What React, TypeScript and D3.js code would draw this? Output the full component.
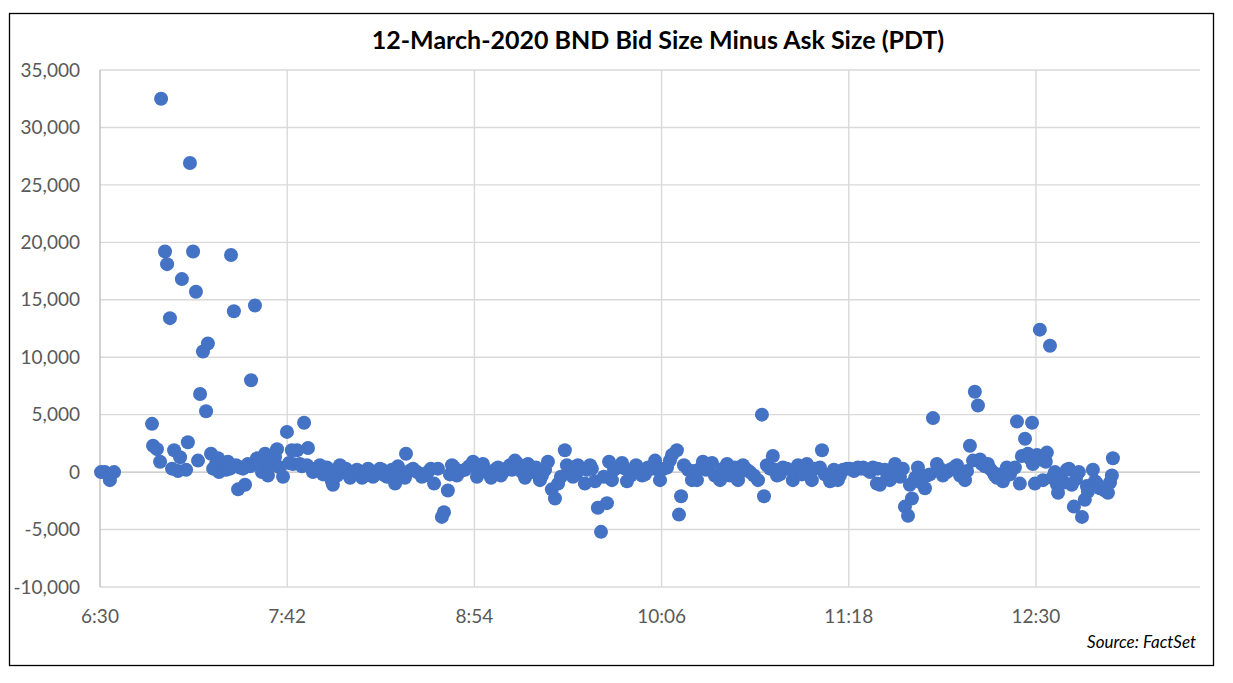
import * as d3 from "d3"

// minutes after 6:30 PDT
const minutesAfterOpen = [
  0.4, 1.9, 3.8, 5.4,
  20.0, 20.4, 21.9, 23.1, 23.5, 25.0, 25.8, 26.9, 27.7, 28.5, 30.0, 30.8, 31.5, 33.1, 33.8, 34.6,
  35.8, 36.9, 37.7, 38.5, 39.6, 40.8, 41.5, 42.7, 43.5, 45.4, 45.8, 47.7, 49.2, 50.0, 50.4, 51.5,
  53.1, 53.8, 55.8, 56.9, 58.1, 59.6, 60.4, 62.3, 63.5, 64.6, 66.2, 68.1, 70.4, 71.9, 73.8, 74.2,
  75.8, 76.9, 78.5, 79.6, 80.0, 81.9, 84.6, 87.3, 89.2, 89.6, 92.3, 93.5, 96.2, 98.8, 100.8, 103.1,
  105.0, 107.7, 109.6, 111.5, 113.5, 114.6, 117.3, 117.7, 120.4, 123.8, 126.1, 128.5, 130.0, 131.5,
  132.3, 133.8, 135.4, 137.3, 140.4, 143.5, 145.0, 147.3, 150.4, 153.1, 155.0, 157.7, 159.6, 161.5,
  163.5, 164.6, 166.5, 169.2, 171.2, 172.3, 173.8, 175.0, 176.2, 178.8, 179.6, 181.9, 183.8, 186.5,
  188.5, 190.4, 191.5, 192.7, 195.0, 195.8, 196.9, 199.2, 200.8, 202.7, 205.0, 206.2, 208.5, 210.8,
  213.5, 215.4, 218.1, 220.0, 221.9, 222.7, 223.5, 224.6, 227.7, 229.6, 231.9, 235.4, 238.5, 241.2,
  243.1, 245.4, 247.3, 250.0, 253.1, 254.6, 255.4, 256.5, 258.8, 260.4, 262.7, 266.5, 268.5, 271.9,
  273.8, 276.9, 277.7, 280.0, 280.8, 283.8, 285.8, 288.5, 291.5, 293.5, 296.2, 298.8, 299.2, 300.0,
  301.9, 303.8, 305.8, 307.7, 308.8, 309.6, 310.8, 311.5, 312.3, 314.2, 314.6, 317.3, 318.1, 320.4,
  321.9, 324.2, 326.9, 329.6, 332.7, 334.6, 335.8, 336.5, 337.7, 339.2, 341.5, 343.5, 345.0, 347.3,
  348.8, 351.9, 352.7, 353.8, 354.6, 355.8, 356.9, 358.5, 358.8, 359.6, 361.5, 361.9, 362.7, 363.8,
  364.2, 365.4, 367.3, 368.1, 368.5, 371.9, 373.8, 374.6, 376.5, 377.7, 378.8, 380.0, 381.9, 383.5,
  385.4, 387.7, 389.2, 389.6,
]

const bidMinusAsk = [
  0, 0, -700, 0,
  4200, 2300, 2000, 900, 32500, 19200, 18100, 13400, 300, 1900, 100, 1300, 16800, 200, 2600, 26900,
  19200, 15700, 1000, 6800, 10500, 5300, 11200, 1600, 300, 1200, 0, 500, 900, 300, 18900, 14000,
  -1500, 400, -1100, 700, 8000, 14500, 1200, 0, 1600, -300, 1000, 2000, -400, 3500, 1900, 700,
  1900, 700, 4300, 600, 2100, 0, 600, 400, -800, -1100, 600, 0, -500, 200, -500, 300,
  -400, 300, -300, 0, -1000, 500, -500, 1600, 300, -400, 0, -1000, 300, -3900,
  -3500, -1600, 600, -300, 200, 900, -400, 700, -500, 400, 0, 600, 1000, 400,
  -500, 700, 0, -700, 200, 900, -1500, -2300, -1000, 1900, 600, -400, 600, -1000,
  600, -800, -3100, -5200, -2700, 900, -700, 400, 800, -800, 0, 600, -300, 400,
  1000, -700, 400, 1500, 1900, -3700, -2100, 600, -700, -700, 900, 800, -700, 700,
  200, -700, 600, 0, -700, 5000, -2100, 600, 1400, -300, 400, -700, 600, 700,
  -700, 400, 1900, -300, -800, -700, 200, 300, 400, 400, 0, -1000, 300, -1100,
  200, -700, 700, -400, 300, -3000, -3800, -1100, -2300, -700, 400, -1400, -300, 4700,
  700, -300, 200, 600, -700, 2300, 1000, 7000, 5800, 700, 700, 0, -500, -800,
  400, 400, 4400, -1000, 1400, 2900, 1600, 4300, 700, -1000, 12400, 1100, -700, 900,
  1700, 11000, 0, -1100, -1800, 200, -1100, -3000, 0, -3900, -2400, -1700, 200, -1000,
  -1400, -1800, -300, 1200,
]

// the quieter quotes inside the dense band around zero
const bandMinutes = [
  44.6, 48.5, 52.3, 55.0, 57.7, 61.2, 65.4, 67.3, 69.2, 72.7, 77.7, 82.7, 85.8, 88.1, 91.2, 94.6,
  97.3, 99.6, 102.0, 104.2, 106.2, 108.5, 110.4, 112.3, 116.0, 119.0, 122.0, 125.0, 127.3, 134.6,
  136.2, 138.8, 141.9, 146.2, 148.8, 151.9, 154.2, 156.2, 158.5, 160.4, 162.3, 165.8, 167.7, 170.0,
  177.3, 180.8, 183.1, 185.0, 187.3, 189.2, 193.8, 197.7, 201.9, 204.2, 207.3, 209.6, 212.3, 214.6,
  216.9, 219.2, 226.2, 228.5, 230.8, 233.1, 236.5, 239.6, 242.3, 244.2, 246.2, 248.8, 251.5, 257.7,
  259.6, 261.5, 264.2, 267.3, 270.0, 272.7, 275.0, 278.8, 282.3, 284.6, 287.3, 290.0, 292.7, 295.0,
  297.3, 302.7, 304.6, 306.9, 313.5, 315.8, 319.2, 323.1, 325.8, 328.5, 330.8, 333.5, 338.5, 340.4,
  342.3, 344.2, 346.2, 350.0, 357.7, 360.4, 366.2, 369.6, 370.8, 372.7, 375.4, 379.6, 382.7, 384.6,
  386.5, 388.5,
]
const bandValues = [
  700, 200, 600, 300, 500, 900, 500, 1300, 400, 800, 500, 300, -200, 200, -300, 300,
  -200, 100, -300, 100, -200, 200, -400, 200, -200, 100, 0, -300, 300, -200,
  400, 100, 500, 300, 0, 200, -300, 300, 200, 800, 0, 300, 400, -300,
  -400, 200, -200, 300, 200, 300, -400, 200, 300, -300, 200, -200, 300, 200,
  300, 1000, 200, 100, 300, 200, -300, 300, -300, 400, 0, 200, -300, 300,
  200, -200, 300, 0, -200, 200, 300, -200, 200, -300, 300, 100, 300, 200,
  400, -500, -300, 100, -500, -900, -200, 300, 0, 400, -300, 100, 1100, 500,
  300, -300, -200, -200, 1200, 1500, -500, -500, -900, 300, -600, -1200, -800, -1400,
  -1600, -900,
]

const xTickLabels = ["6:30", "7:42", "8:54", "10:06", "11:18", "12:30"]
const yTicks = [-10000, -5000, 0, 5000, 10000, 15000, 20000, 25000, 30000, 35000]

const W = 1233
const H = 683
const plot = { left: 100, right: 1200, top: 70, bottom: 587 }

const toMinutes = (s: string) => {
  const [h, m] = s.split(":").map(Number)
  return h * 60 + m - (6 * 60 + 30)
}

export default function App() {
  const x = d3.scaleLinear().domain([0, 423.1]).range([plot.left, plot.right])
  const y = d3.scaleLinear().domain([-10000, 35000]).range([plot.bottom, plot.top])
  const fmt = (v: number) => d3.format(",")(v).replace("\u2212", "-")
  const points = minutesAfterOpen
    .map((m, i) => ({ m, v: bidMinusAsk[i] }))
    .concat(bandMinutes.map((m, i) => ({ m, v: bandValues[i] })))
    .sort((a, b) => a.m - b.m)

  return (
    <svg width={W} height={H} style={{ position: "absolute", left: 0, top: 0, background: "#fff" }}>
      <rect x={9.5} y={13.5} width={1204} height={652} fill="#fff" stroke="#000" strokeWidth={1.3} />
      <text
        x={658}
        y={49}
        textAnchor="middle"
        fontFamily="Lato, 'Open Sans', sans-serif"
        fontWeight="bold"
        fontSize={25}
        fill="#000"
      >
        12-March-2020 BND Bid Size Minus Ask Size (PDT)
      </text>

      {/* horizontal gridlines */}
      {yTicks.map((t) => (
        <line
          key={"gy" + t}
          x1={plot.left}
          x2={plot.right}
          y1={y(t)}
          y2={y(t)}
          stroke={t === 0 ? "#bfbfbf" : "#d9d9d9"}
          strokeWidth={1.4}
        />
      ))}
      {/* vertical gridlines */}
      {xTickLabels.map((l) => {
        const m = toMinutes(l)
        return (
          <line
            key={"gx" + l}
            x1={x(m)}
            x2={x(m)}
            y1={plot.top}
            y2={plot.bottom}
            stroke={m === 0 ? "#bfbfbf" : "#d9d9d9"}
            strokeWidth={1.4}
          />
        )
      })}

      {yTicks.map((t) => (
        <text
          key={"ty" + t}
          x={80}
          y={y(t)}
          dy="0.35em"
          textAnchor="end"
          fontFamily="Lato, 'Open Sans', sans-serif"
          fontSize={19}
          fill="#595959"
        >
          {fmt(t)}
        </text>
      ))}
      {xTickLabels.map((l) => (
        <text
          key={"tx" + l}
          x={x(toMinutes(l))}
          y={616}
          dy="0.35em"
          textAnchor="middle"
          fontFamily="Lato, 'Open Sans', sans-serif"
          fontSize={19}
          fill="#595959"
        >
          {l}
        </text>
      ))}

      {points.map((p, i) => (
        <circle key={i} cx={x(p.m)} cy={y(p.v)} r={7} fill="#4472C4" />
      ))}

      <text
        x={1196}
        y={642}
        dy="0.35em"
        textAnchor="end"
        fontFamily="Lato, 'Open Sans', sans-serif"
        fontStyle="italic"
        fontSize={17}
        fill="#000"
      >
        Source: FactSet
      </text>
    </svg>
  )
}
